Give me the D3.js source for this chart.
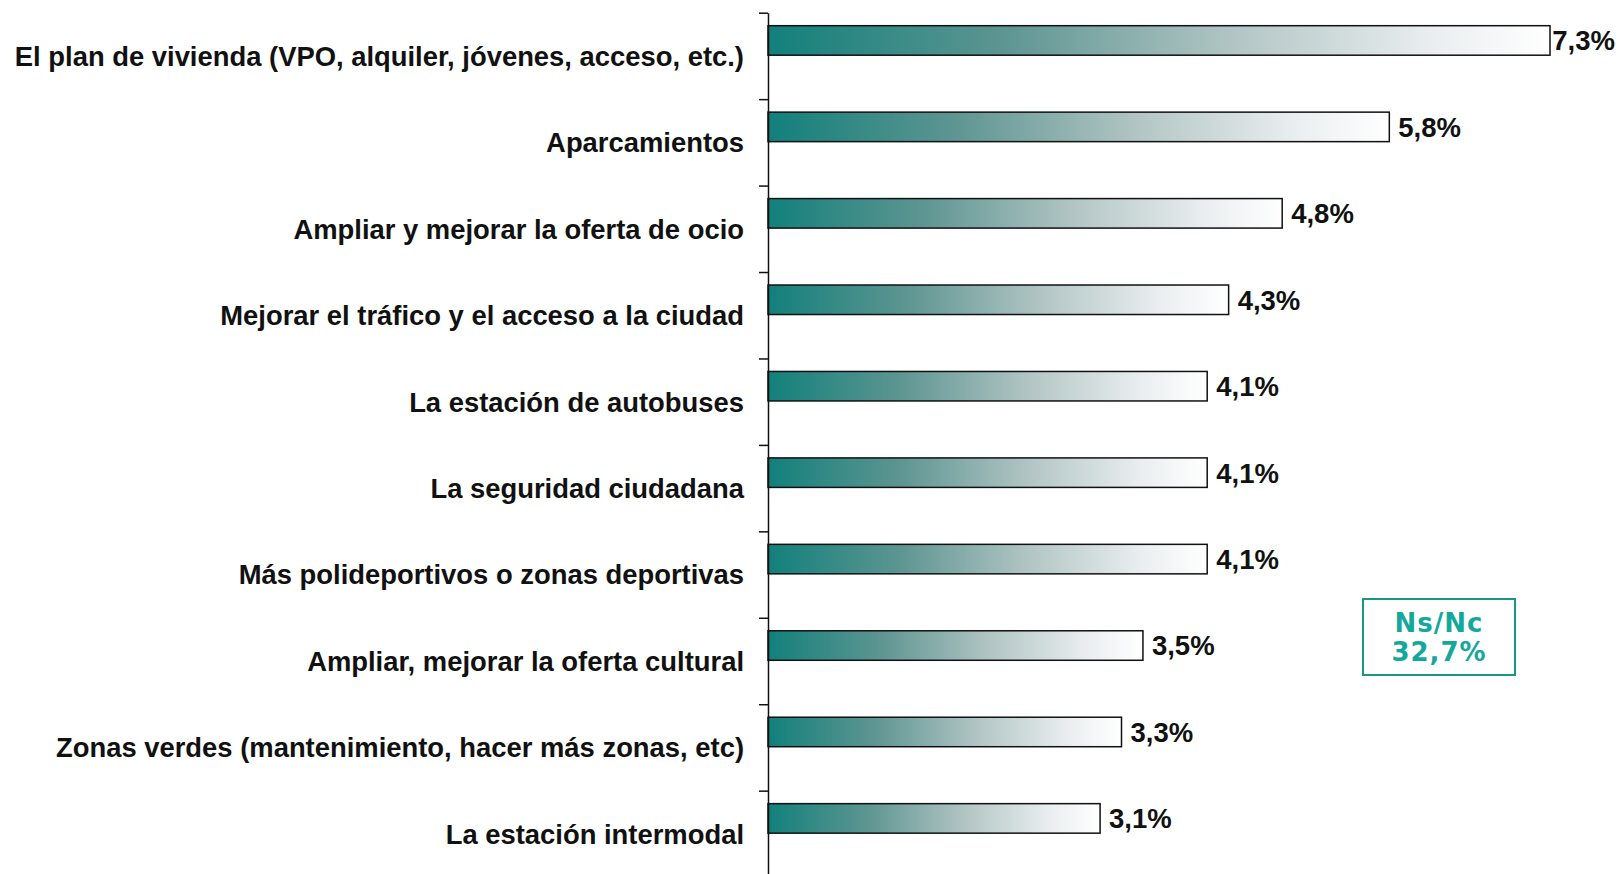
<!DOCTYPE html>
<html>
<head>
<meta charset="utf-8">
<script src="https://cdn.jsdelivr.net/npm/d3@7"></script>
<style>
  html, body { margin: 0; padding: 0; background: #fff; }
  svg { display: block; }
</style>
</head>
<body>
<div id="chart"></div>
<script>
const categories = [
    "El plan de vivienda (VPO, alquiler, jóvenes, acceso, etc.)",
    "Aparcamientos",
    "Ampliar y mejorar la oferta de ocio",
    "Mejorar el tráfico y el acceso a la ciudad",
    "La estación de autobuses",
    "La seguridad ciudadana",
    "Más polideportivos o zonas deportivas",
    "Ampliar, mejorar la oferta cultural",
    "Zonas verdes (mantenimiento, hacer más zonas, etc)",
    "La estación intermodal"
];
const values = [7.3, 5.8, 4.8, 4.3, 4.1, 4.1, 4.1, 3.5, 3.3, 3.1];
const nsncLabel = "Ns/Nc";
const nsncValue = 32.7;

const W = 1621, H = 874;
const axisX = 768;
const top0 = 12.7, step = 86.44;

const fmt = v => d3.format(".1f")(v).replace(".", ",") + "%";

const svg = d3.select("#chart")
    .append("svg")
    .attr("width", W)
    .attr("height", H);

const y = d3.scaleBand()
    .domain(categories)
    .range([top0, top0 + step * categories.length])
    .paddingInner(0)
    .paddingOuter(0);

const x = d3.scaleLinear()
    .domain([0, 7.3])
    .range([axisX, 1550]);

// gradient teal -> white, per bar
const defs = svg.append("defs");
const grad = defs.append("linearGradient")
    .attr("id", "barGrad")
    .attr("x1", "0%").attr("x2", "100%")
    .attr("y1", "0%").attr("y2", "0%");
grad.append("stop").attr("offset", "0%").attr("stop-color", "#12807b");
grad.append("stop").attr("offset", "30%").attr("stop-color", "#5d9591");
grad.append("stop").attr("offset", "60%").attr("stop-color", "#b3c6c5");
grad.append("stop").attr("offset", "85%").attr("stop-color", "#eaeef0");
grad.append("stop").attr("offset", "100%").attr("stop-color", "#ffffff");

const barOffset = 13, barH = 29.5;

svg.selectAll(".bar")
    .data(values)
    .enter()
    .append("rect")
    .attr("class", "bar")
    .attr("x", x(0))
    .attr("y", (d, i) => y(categories[i]) + barOffset)
    .attr("width", d => x(d) - x(0))
    .attr("height", barH)
    .attr("fill", "url(#barGrad)")
    .attr("stroke", "#111")
    .attr("stroke-width", 1.5);

// value labels (pushed left if they would run off the right edge)
svg.selectAll(".val")
    .data(values)
    .enter()
    .append("text")
    .attr("class", "val")
    .attr("y", (d, i) => y(categories[i]) + barOffset + barH / 2)
    .attr("dy", "0.36em")
    .attr("font-family", "'Liberation Sans', Arial, sans-serif")
    .attr("font-weight", "bold")
    .attr("font-size", 27.5)
    .attr("fill", "#111")
    .text(fmt)
    .attr("x", function (d) {
        const w = this.getComputedTextLength();
        return Math.min(x(d) + 9, W - 6 - w);
    });

// category labels
svg.selectAll(".cat")
    .data(categories)
    .enter()
    .append("text")
    .attr("class", "cat")
    .attr("x", 744)
    .attr("y", d => y(d) + y.bandwidth() / 2)
    .attr("dy", "0.36em")
    .attr("text-anchor", "end")
    .attr("font-family", "'Liberation Sans', Arial, sans-serif")
    .attr("font-weight", "bold")
    .attr("font-size", 27.4)
    .attr("fill", "#111")
    .text(d => d);

// axis with ticks at band boundaries
const yb = d3.scaleLinear()
    .domain([0, categories.length])
    .range([top0, top0 + step * categories.length]);

const axis = svg.append("g")
    .attr("transform", `translate(${axisX},0)`)
    .call(d3.axisLeft(yb)
        .tickValues(d3.range(categories.length + 1))
        .tickFormat("")
        .tickSize(9)
        .tickSizeOuter(0));
axis.select(".domain").attr("stroke", "#111").attr("stroke-width", 1.5);
axis.selectAll(".tick line").attr("stroke", "#111").attr("stroke-width", 1.5);

// Ns/Nc box
const box = svg.append("g").attr("transform", "translate(1363,599)");
box.append("rect")
    .attr("width", 152)
    .attr("height", 76)
    .attr("fill", "#fff")
    .attr("stroke", "#1a9688")
    .attr("stroke-width", 2);
box.selectAll("text")
    .data([nsncLabel, fmt(nsncValue)])
    .enter()
    .append("text")
    .attr("x", 76)
    .attr("y", (d, i) => 33 + i * 29)
    .attr("text-anchor", "middle")
    .attr("font-family", "'DejaVu Sans', Verdana, sans-serif")
    .attr("font-weight", "bold")
    .attr("font-size", 26)
    .attr("letter-spacing", 1)
    .attr("fill", "#14a89c")
    .text(d => d);
</script>
</body>
</html>
